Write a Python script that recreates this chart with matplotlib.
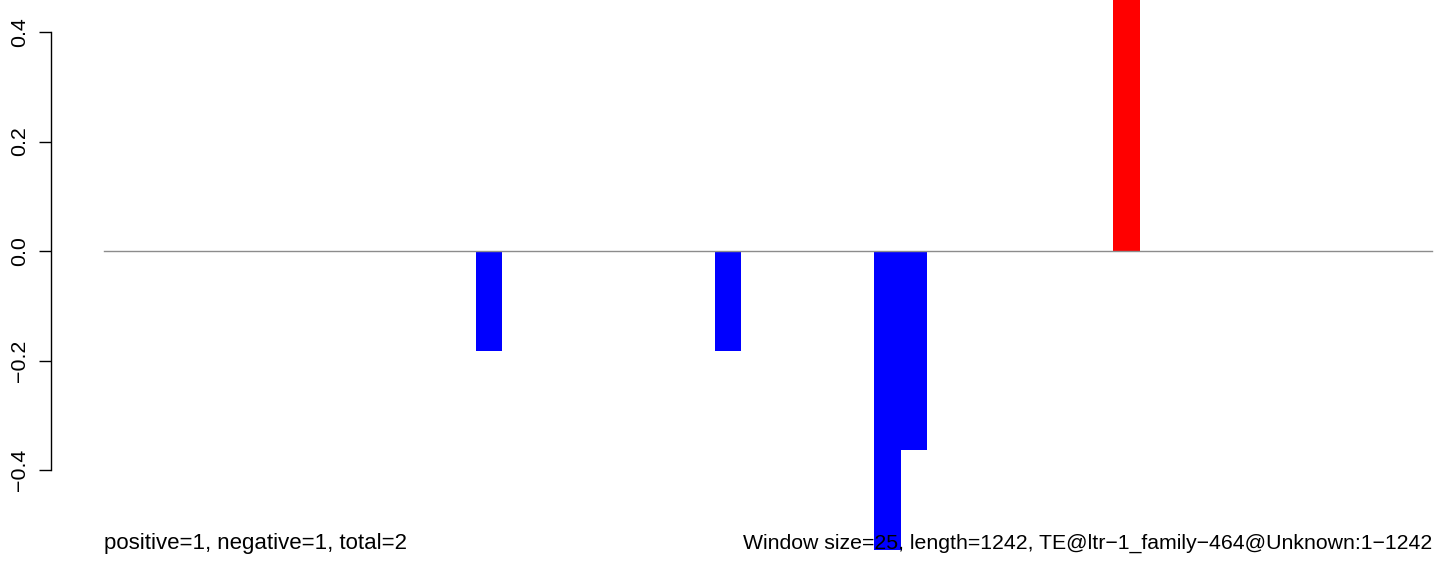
import matplotlib
matplotlib.use("Agg")
import matplotlib.pyplot as plt

plt.rcParams['font.family'] = ['Liberation Sans', 'DejaVu Sans']

n_windows = 50
bar_index = [14, 23, 29, 30, 38]
bar_values = [-2/11, -2/11, -6/11, -4/11, 6/11]
bar_colors = ['blue', 'blue', 'blue', 'blue', 'red']
ytick_values = [-0.4, -0.2, 0.0, 0.2, 0.4]
ytick_labels = ['\u22120.4', '\u22120.2', '0.0', '0.2', '0.4']
left_text = 'positive=1, negative=1, total=2'
right_text = 'Window size=25, length=1242, TE@ltr\u22121_family\u2212464@Unknown:1\u22121242'

W, H = 1444, 571
fig = plt.figure(figsize=(W/100, H/100), dpi=100)
ax = fig.add_axes([0, 0, 1, 1])

# pixel mapping
x0_px, bw_px = 104, 1328/50
y0_px, ypp = 251, 547.5  # pixels per unit

ax.set_xlim(-x0_px/bw_px, (W - x0_px)/bw_px)
ax.set_ylim(-(H - y0_px)/ypp, y0_px/ypp)

ax.bar(bar_index, bar_values, width=1.0, align='edge', color=bar_colors,
       linewidth=0, zorder=2)
ax.plot([0, n_windows], [0, 0], color='#8c8c8c', lw=1.0, zorder=3)

for s in ['top', 'right', 'bottom']:
    ax.spines[s].set_visible(False)
ax.spines['left'].set_position(('data', (51 - x0_px)/bw_px))
ax.spines['left'].set_bounds(-0.4, 0.4)
ax.spines['left'].set_linewidth(1.0)
ax.set_xticks([])
ax.set_yticks(ytick_values)
ax.set_yticklabels(ytick_labels, rotation=90, va='center', fontsize=15.4)
ax.tick_params(axis='y', length=8.6, width=1.0, pad=7)

ax.text(0, -(543 - y0_px)/ypp, left_text, ha='left', va='center', fontsize=16, zorder=5)
ax.text(n_windows, -(543 - y0_px)/ypp, right_text, ha='right', va='center', fontsize=15.3, zorder=5)

fig.savefig('out.png', dpi=100)
